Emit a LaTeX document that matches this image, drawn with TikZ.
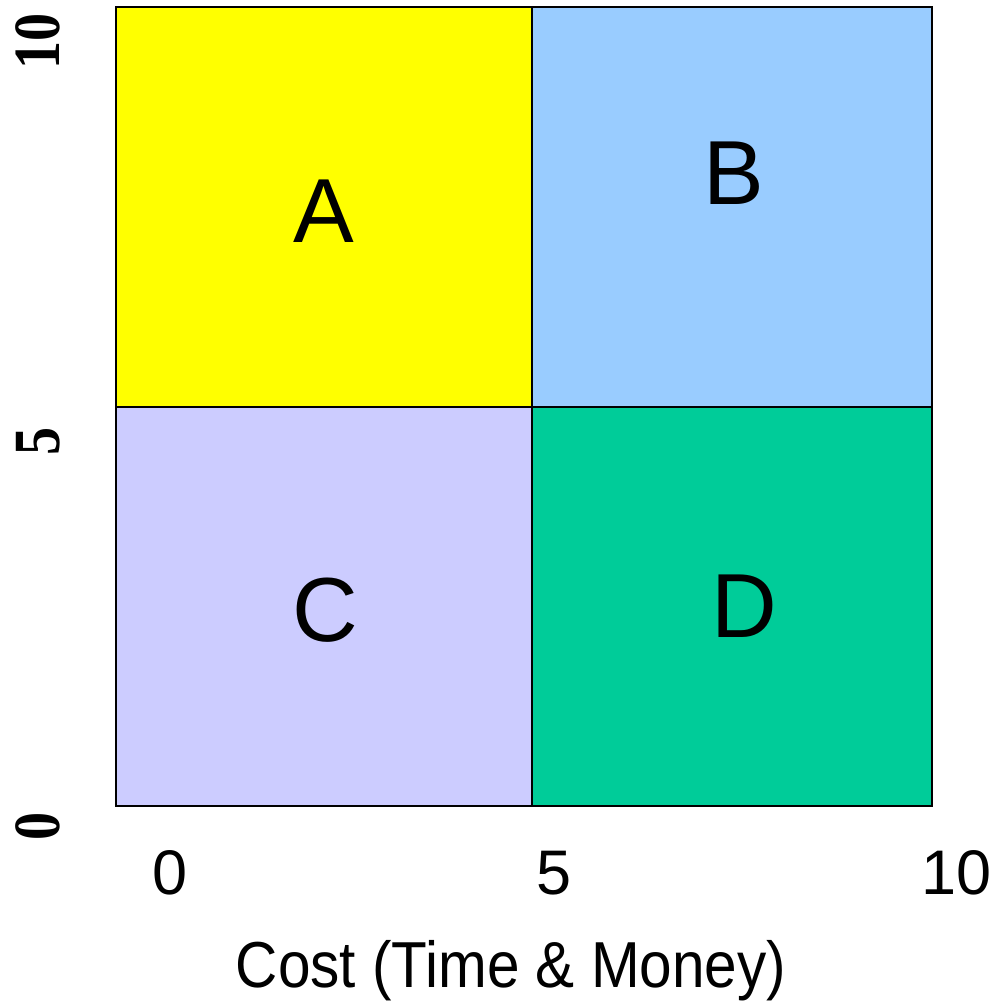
\documentclass[tikz,border=0pt]{standalone}
\usepackage{fontspec}
\setmainfont{Liberation Sans}
\newfontfamily\ylabfont{Liberation Serif}
\definecolor{cA}{HTML}{FFFF00}
\definecolor{cB}{HTML}{99CCFF}
\definecolor{cC}{HTML}{CCCCFF}
\definecolor{cD}{HTML}{00CC99}
\begin{document}
\begin{tikzpicture}[x=1pt,y=-1pt,
  cellline/.style={draw=black,line width=2.6pt},
  quadlabel/.style={anchor=base,inner sep=0pt,font=\fontsize{91}{91}\selectfont},
  xlab/.style={anchor=base,inner sep=0pt,font=\fontsize{63}{63}\selectfont},
  ylab/.style={anchor=center,inner sep=0pt,rotate=90,xscale=0.85,font=\ylabfont\bfseries\fontsize{66}{66}\selectfont}]
\useasboundingbox (0,0) rectangle (1005,1002);
% quadrants
\fill[cA] (116,7) rectangle (532,407);
\fill[cB] (532,7) rectangle (932,407);
\fill[cC] (116,407) rectangle (532,806);
\fill[cD] (532,407) rectangle (932,806);
\draw[cellline] (116,7) rectangle (932,806);
\draw[cellline] (532,7) -- (532,806);
\draw[cellline] (116,407) -- (932,407);
% quadrant letters
\node[quadlabel] (la) at (324,242) {A};
\node[quadlabel] (lb) at (734,204) {B};
\node[quadlabel] (lc) at (325,641) {C};
\node[quadlabel] (ld) at (744,637) {D};
% x axis labels
\node[xlab] (x0) at (170,894) {0};
\node[xlab] (x5) at (554,894) {5};
\node[xlab] (x10) at (957,894) {10};
\node[anchor=base,inner sep=0pt,xscale=0.9,font=\fontsize{65}{65}\selectfont] (xt) at (511,987) {Cost (Time \& Money)};
% y axis labels
\node[ylab] (y10) at (38,41) {10};
\node[ylab] (y5) at (38,441) {5};
\node[ylab] (y0) at (38,826) {0};
\end{tikzpicture}
\end{document}
